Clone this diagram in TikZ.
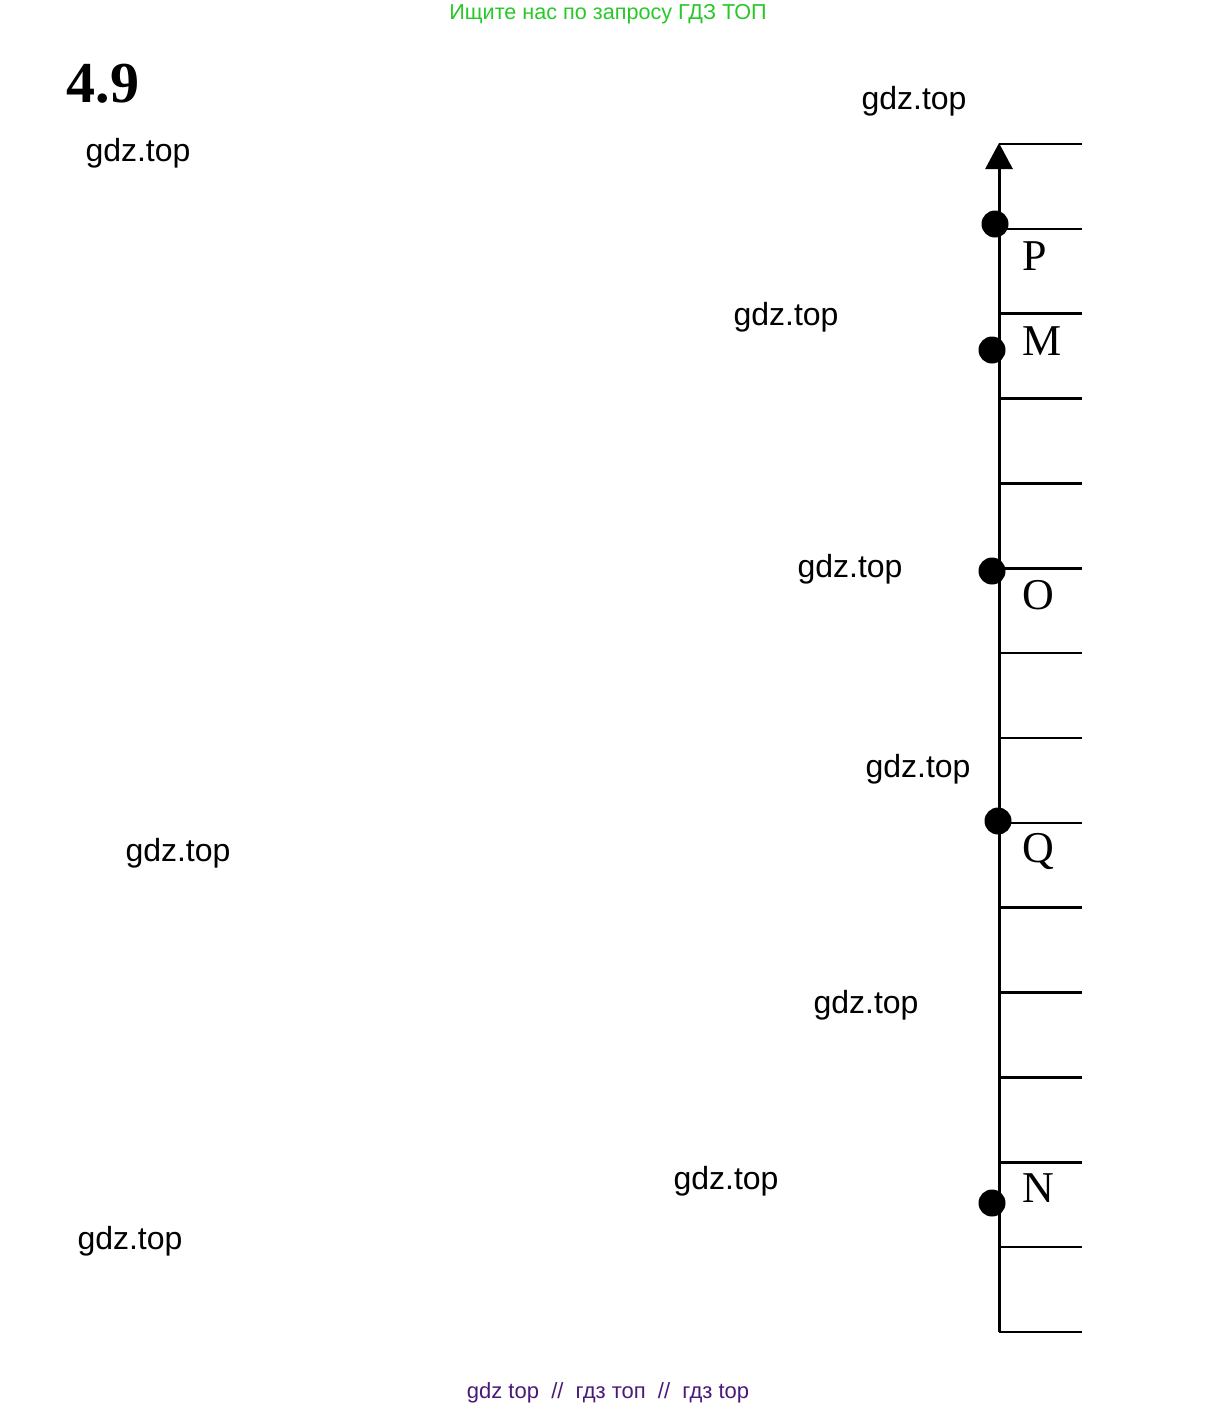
\documentclass[tikz,border=0pt]{standalone}
\usepackage{fontspec}
\setmainfont{Liberation Serif}
\newfontfamily\wmfont{Liberation Sans}
\usetikzlibrary{arrows.meta}
\definecolor{wmgreen}{RGB}{40,200,40}
\definecolor{wmpurple}{RGB}{75,25,120}
\begin{document}
\begin{tikzpicture}[x=1pt,y=-1pt,
  dot/.style={circle,fill=black,inner sep=0pt,minimum size=27pt},
  lbl/.style={font=\fontsize{44}{44}\selectfont,inner sep=0pt},
  wm/.style={font=\wmfont\fontsize{32}{32}\selectfont,inner sep=0pt},
  axisline/.style={line width=3pt,-{Triangle[length=26pt,width=27pt]}},
  tick/.style={line width=2.5pt}]
\useasboundingbox (0,0) rectangle (1218,1409);
\fill[white] (0,0) rectangle (1218,1409);
% header / footer
\node[font=\wmfont\fontsize{21.6}{21.6}\selectfont,text=wmgreen,inner sep=0pt] (hdr) at (608,14) {Ищите нас по запросу ГДЗ ТОП};
\node[font=\wmfont\fontsize{22}{22}\selectfont,text=wmpurple,inner sep=0pt] (ftr) at (608,1393) {gdz top\ \ //\ \ гдз топ\ \ //\ \ гдз top};
% title
\node[font=\bfseries\fontsize{58}{58}\selectfont,inner sep=0pt] (title) at (103,84) {4.9};
% watermarks
\node[wm] (w1) at (138,153) {gdz.top};
\node[wm] (w2) at (914,101) {gdz.top};
\node[wm] (w3) at (786,317) {gdz.top};
\node[wm] (w4) at (850,569) {gdz.top};
\node[wm] (w5) at (918,769) {gdz.top};
\node[wm] (w6) at (178,853) {gdz.top};
\node[wm] (w7) at (866,1005) {gdz.top};
\node[wm] (w8) at (726,1181) {gdz.top};
\node[wm] (w9) at (130,1241) {gdz.top};
% axis
\coordinate (bot) at (999,1332);
\coordinate (top) at (999,143);
\draw[axisline] (bot) -- (top);
\foreach \i in {0,...,14}{
  \draw[tick] (999,{144+\i*84.857}) -- (1082,{144+\i*84.857});
}
% points
\node[dot] (P) at (995,224) {};
\node[dot] (M) at (992,350) {};
\node[dot] (O) at (992,571) {};
\node[dot] (Q) at (998,821) {};
\node[dot] (N) at (992,1203) {};
% labels
\node[lbl] (lP) at (1035,256) {P};
\node[lbl] (lM) at (1042,341) {M};
\node[lbl] (lO) at (1038,595) {O};
\node[lbl] (lQ) at (1038,851) {Q};
\node[lbl] (lN) at (1038,1188) {N};
\end{tikzpicture}
\end{document}
